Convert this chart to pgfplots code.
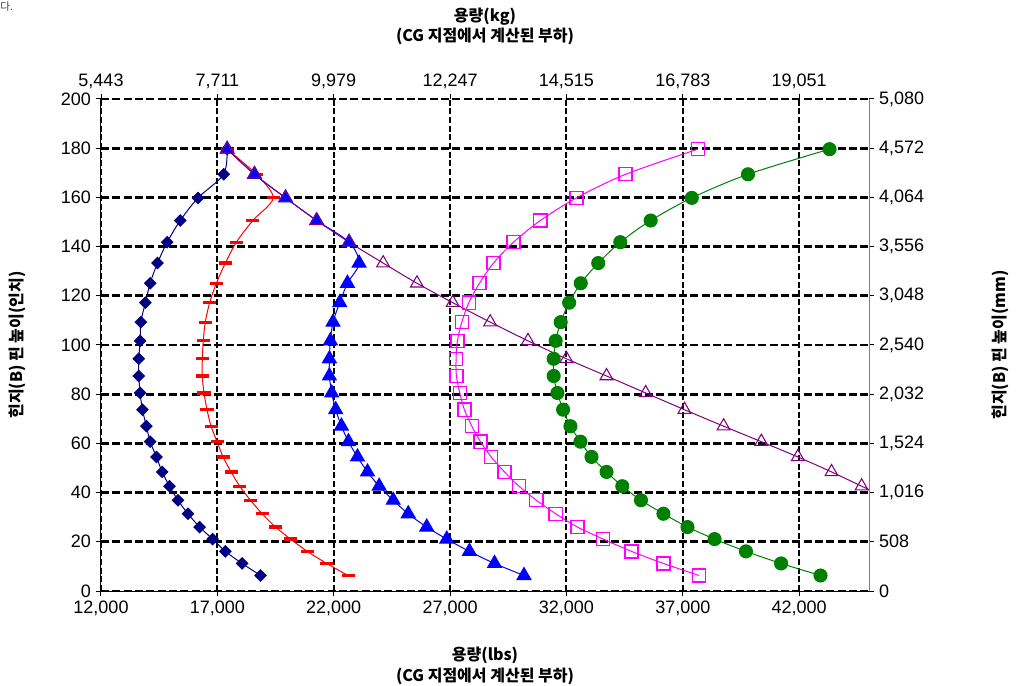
\documentclass[border=0pt]{standalone}
\usepackage{fontspec}
\setmainfont{Liberation Sans}
\newfontfamily\kr{Noto Sans CJK KR}
\usepackage{pgfplots}
\pgfplotsset{compat=1.18}
\definecolor{cnavy}{RGB}{0,0,128}
\definecolor{cred}{RGB}{255,0,0}
\definecolor{cblue}{RGB}{0,0,255}
\definecolor{cpurple}{RGB}{128,0,128}
\definecolor{cmag}{RGB}{255,0,255}
\definecolor{cgreen}{RGB}{0,128,0}
\begin{document}
\begin{tikzpicture}
\useasboundingbox (-75.75pt,-70.5pt) rectangle (686.25pt,443.25pt);
\begin{axis}[
  at={(0,0)}, anchor=south west, scale only axis,
  width=576pt, height=369pt,
  xmin=12000, xmax=45000, ymin=0, ymax=200,
  xtick={12000,17000,...,42000}, ytick={0,20,...,200},
  scaled x ticks=false, scaled y ticks=false,
  axis x line*=bottom, axis y line*=left,
  axis line style={-, black, line width=0.75pt},
  tick align=outside, major tick length=4pt,
  tick style={black, line width=0.75pt},
  xmajorgrids, ymajorgrids,
  x grid style={black, line width=1.5pt, dash pattern=on 4.5pt off 2pt},
  y grid style={black, line width=2.2pt, dash pattern=on 6pt off 2.5pt},
  ticklabel style={font=\fontsize{13.5}{16}\selectfont},
  /pgf/number format/.cd, 1000 sep={,}, assume math mode=true,
]
% navy diamonds
\addplot[cnavy, line width=0.75pt, smooth, mark=square*, mark size=3pt, mark options={solid, fill=cnavy, rotate=45}] coordinates {
(18853,6.3)(18064,11.2)(17344,16.1)(16797,21.1)(16237,26.0)(15737,31.4)(15306,36.9)(14944,42.6)(14629,48.4)(14383,54.5)(14112,60.7)(13952,67.0)(13780,73.7)(13681,80.5)(13625,87.4)(13625,94.4)(13680,101.7)(13711,109.3)(13909,117.2)(14112,125.1)(14427,133.3)(14845,141.8)(15405,150.6)(16168,159.8)(17271,169.4)(17420,179.6)};
% red dashes
\addplot[cred, line width=0.75pt, smooth, mark=-, mark size=4.9pt, mark options={solid, line width=2.4pt}] coordinates {
(22616,6.3)(21698,11.2)(20866,16.1)(20146,21.1)(19499,26.0)(18926,31.4)(18422,36.9)(17961,42.6)(17590,48.4)(17245,54.5)(16987,60.7)(16728,67.0)(16556,73.7)(16426,80.5)(16353,87.4)(16353,94.4)(16395,101.7)(16482,109.3)(16668,117.2)(16957,125.1)(17344,133.3)(17819,141.8)(18521,150.6)(19400,159.8)(18668,169.4)(17420,179.6)};
% blue filled triangles
\addplot[cblue, line width=0.75pt, smooth, mark=triangle*, mark size=6pt, mark options={solid, fill=cblue}] coordinates {
(30175,6.3)(28908,11.2)(27831,16.1)(26857,21.1)(25995,26.0)(25202,31.4)(24555,36.9)(23952,42.6)(23452,48.4)(23021,54.5)(22633,60.7)(22331,67.0)(22085,73.7)(21913,80.5)(21814,87.4)(21814,94.4)(21855,101.7)(21969,109.3)(22258,117.2)(22590,125.1)(23090,133.3)(22659,141.8)(21267,150.6)(19930,159.8)(18594,169.4)(17420,179.6)};
% purple open triangles
\addplot[cpurple, line width=0.75pt, smooth, mark=triangle, mark size=5.6pt, mark options={solid, line width=0.8pt}] coordinates {
(17420,179.6)(18594,169.4)(19930,159.8)(21267,150.6)(22659,141.8)(24124,133.3)(25577,125.1)(27115,117.2)(28723,109.3)(30348,101.7)(31998,94.4)(33722,87.4)(35403,80.5)(37071,73.7)(38752,67.0)(40373,60.7)(41942,54.5)(43390,48.4)(44683,42.6)};
\addplot[cpurple, line width=0.75pt, forget plot] coordinates {(44683,42.6)(46000,36.9)};
% magenta open squares
\addplot[cmag, line width=0.75pt, smooth, mark=square, mark size=4.9pt, mark options={solid, line width=1pt}] coordinates {
(37701,6.3)(36166,11.2)(34800,16.1)(33580,21.1)(32473,26.0)(31537,31.4)(30705,36.9)(29960,42.6)(29339,48.4)(28766,54.5)(28305,60.7)(27934,67.0)(27615,73.7)(27417,80.5)(27271,87.4)(27257,94.4)(27315,101.7)(27503,109.3)(27805,117.2)(28262,125.1)(28865,133.3)(29727,141.8)(30878,150.6)(32429,159.8)(34541,169.4)(37645,179.6)};
% green circles
\addplot[cgreen, line width=0.75pt, smooth, mark=*, mark size=4.9pt, mark options={solid, fill=cgreen}] coordinates {
(42916,6.3)(41222,11.2)(39713,16.1)(38364,21.1)(37201,26.0)(36166,31.4)(35201,36.9)(34399,42.6)(33722,48.4)(33076,54.5)(32602,60.7)(32171,67.0)(31856,73.7)(31611,80.5)(31451,87.4)(31451,94.4)(31537,101.7)(31753,109.3)(32115,117.2)(32615,125.1)(33365,133.3)(34313,141.8)(35619,150.6)(37386,159.8)(39800,169.4)(43304,179.6)};
\end{axis}
\begin{axis}[
  at={(0,0)}, anchor=south west, scale only axis,
  width=576pt, height=369pt,
  xmin=12000, xmax=45000, ymin=0, ymax=200,
  scaled x ticks=false, scaled y ticks=false,
  axis x line*=top, axis y line*=right,
  x axis line style={draw=none},
  y axis line style={-, gray, line width=0.75pt},
  tick align=outside, major tick length=4pt,
  tick style={black, line width=0.75pt},
  xtick={12000,17000,...,42000},
  xticklabels={{5,443},{7,711},{9,979},{12,247},{14,515},{16,783},{19,051}},
  ytick={0,20,...,200},
  yticklabels={0,508,{1,016},{1,524},{2,032},{2,540},{3,048},{3,556},{4,064},{4,572},{5,080}},
  ticklabel style={font=\fontsize{13.5}{16}\selectfont},
]
\end{axis}
\node[font=\kr\bfseries\fontsize{12}{15.5}\selectfont, align=center] at (288pt,423.4pt) {용량(kg)\\(CG 지점에서 계산된 부하)};
\node[font=\kr\bfseries\fontsize{12}{15.5}\selectfont, align=center] at (288pt,-56.25pt) {용량(lbs)\\(CG 지점에서 계산된 부하)};
\node[font=\kr\bfseries\fontsize{12}{15.5}\selectfont, rotate=90] at (-63pt,184.5pt) {힌지(B) 핀 높이(인치)};
\node[font=\kr\bfseries\fontsize{12}{15.5}\selectfont, rotate=90] at (674.25pt,184.5pt) {힌지(B) 핀 높이(mm)};
\node[font=\kr\fontsize{8}{9}\selectfont, text=darkgray, anchor=north west, inner sep=0pt] at (-75.75pt,442pt) {다.};
\end{tikzpicture}
\end{document}
